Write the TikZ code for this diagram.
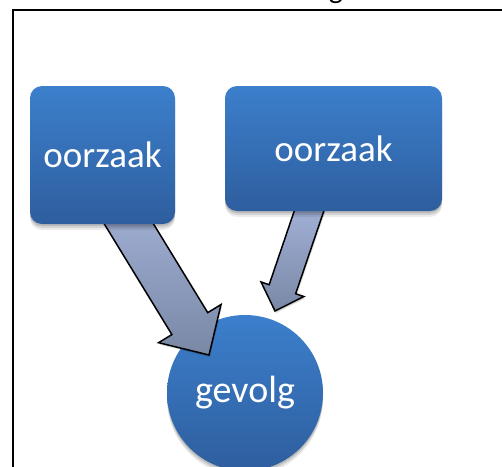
\documentclass[tikz,border=0pt]{standalone}
\usepackage{fontspec}
\setmainfont{Carlito}
\usetikzlibrary{calc,shadows}
\definecolor{boxtop}{RGB}{60,127,204}
\definecolor{boxbot}{RGB}{46,94,158}
\definecolor{arrtop}{RGB}{168,184,222}
\definecolor{arrbot}{RGB}{122,136,166}
\pgfdeclarelayer{bglayer}
\pgfdeclarelayer{arrlayer}
\pgfsetlayers{bglayer,arrlayer,main}
\newcommand\cearrow[5]{% start, tip, shaft half width, head half width, head length
  \coordinate (ba-b) at ($(#2)!#5!(#1)$);
  \draw[arrowfill] ($(#1)!#3!90:(#2)$) -- ($(ba-b)!#3!90:(#2)$) -- ($(ba-b)!#4!90:(#2)$)
    -- (#2) -- ($(ba-b)!#4!-90:(#2)$) -- ($(ba-b)!#3!-90:(#2)$) -- ($(#1)!#3!-90:(#2)$) -- cycle;
}
\begin{document}
\begin{tikzpicture}[x=1pt,y=-1pt,
  softshadow/.style={
    drop shadow={shadow xshift=0pt, shadow yshift=-2pt, opacity=0.12, fill=black},
    drop shadow={shadow xshift=0pt, shadow yshift=-4pt, opacity=0.10, fill=black},
    drop shadow={shadow xshift=0pt, shadow yshift=-6pt, opacity=0.07, fill=black}},
  causebox/.style={rounded corners=12pt, top color=boxtop, bottom color=boxbot, draw=none,
    text=white, font=\fontsize{37}{44}\selectfont, inner sep=0pt, softshadow},
  effectcircle/.style={circle, top color=boxtop, bottom color=boxbot, draw=none, text=white,
    font=\fontsize{38}{46}\selectfont, inner sep=0pt, minimum size=156pt, softshadow},
  arrowfill/.style={draw=black, line width=1.5pt, line join=miter, top color=arrtop, bottom color=arrbot,
    drop shadow={shadow xshift=1pt, shadow yshift=-2pt, opacity=0.15, fill=black}},
  frameline/.style={draw=black, line width=2pt}
]
\useasboundingbox (0,0) rectangle (502,466);
\node[font=\fontsize{30}{36}\selectfont, anchor=base, inner sep=0pt] (topg) at (336,-2) {g};
\draw[frameline] (540,10) -- (12.5,10) -- (12.5,500);

\begin{pgfonlayer}{bglayer}
\node[effectcircle] (eff) at (245,393) {gevolg};
\end{pgfonlayer}

\node[causebox, minimum width=145pt, minimum height=138pt] (c1) at (102.5,155) {oorzaak};
\node[causebox, minimum width=217pt, minimum height=125pt] (c2) at (333.5,148.5) {oorzaak};

\coordinate (s1) at ($(c1.center)+(2,29)$);
\coordinate (t1) at ($(eff.center)+(-36,-38)$);
\coordinate (s2) at ($(c2.center)+(-18,43.5)$);
\coordinate (t2) at ($(eff.center)+(30,-82)$);

\begin{pgfonlayer}{arrlayer}
\cearrow{s1}{t1}{21pt}{36.6pt}{36.8pt}
\cearrow{s2}{t2}{14pt}{22.6pt}{23pt}
\end{pgfonlayer}
\end{tikzpicture}
\end{document}
